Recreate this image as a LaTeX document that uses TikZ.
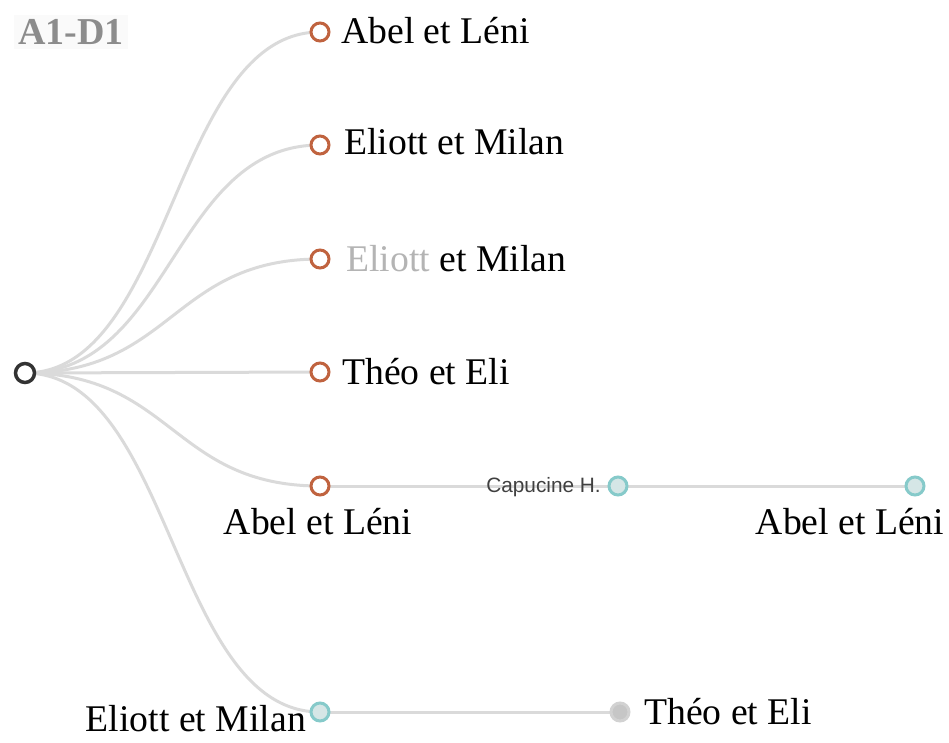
\documentclass[tikz,border=0pt]{standalone}
\usepackage{fontspec}
\usetikzlibrary{calc}
\setmainfont{Liberation Serif}
\newfontfamily\labsans{Liberation Sans}
\definecolor{edgegray}{HTML}{DADADA}
\definecolor{rust}{HTML}{C0633F}
\definecolor{tealS}{HTML}{86CACA}
\definecolor{tealF}{HTML}{D5E6E6}
\definecolor{grayF}{HTML}{C6C6C6}
\definecolor{grayS}{HTML}{D2D2D2}
\definecolor{titlegray}{HTML}{8C8C8C}
\definecolor{titlebg}{HTML}{FAFAFA}
\definecolor{fadedtext}{HTML}{B4B4B4}
\begin{document}
\begin{tikzpicture}[x=1pt,y=-1pt,
  link/.style={draw=edgegray,line width=3pt},
  dot/.style={circle,minimum size=18pt,inner sep=0pt,line width=3pt},
  rootdot/.style={dot,draw=black!80,fill=white,minimum size=19pt,line width=3.5pt},
  rustdot/.style={dot,draw=rust,fill=white},
  tealdot/.style={dot,draw=tealS,fill=tealF},
  graydot/.style={dot,draw=grayS,fill=grayF},
  lab/.style={font=\fontsize{37.7}{42}\selectfont,inner sep=1pt,text=black},
  smalllab/.style={font=\labsans\fontsize{20.8}{23}\selectfont,text=black!75,inner sep=1pt}]
\useasboundingbox (0,0) rectangle (949,742);
\node[fill=titlebg,text=titlegray,font=\bfseries\fontsize{38}{40}\selectfont,inner sep=4pt,anchor=west] (title) at (14,32) {A1-D1};
% node coordinates
\coordinate (r) at (25,373);
\coordinate (p1) at (320,32);
\coordinate (p2) at (320,145);
\coordinate (p3) at (320,259);
\coordinate (p4) at (320,372);
\coordinate (p5) at (320,486);
\coordinate (p6) at (320,712);
\coordinate (q1) at (618,486);
\coordinate (q2) at (915,486);
\coordinate (q3) at (620,712);
% links
\foreach \p in {p1,p2,p3,p4,p5,p6}{
  \draw[link] (r) .. controls ($(r)!0.5!(r-|\p)$) and ($(\p)!0.5!(\p-|r)$) .. (\p);
}
\draw[link] (p5) -- (q1);
\draw[link] (q1) -- (q2);
\draw[link] (p6) -- (q3);
% dots
\node[rootdot] (nr) at (r) {};
\node[rustdot] (n1) at (p1) {};
\node[rustdot] (n2) at (p2) {};
\node[rustdot] (n3) at (p3) {};
\node[rustdot] (n4) at (p4) {};
\node[rustdot] (n5) at (p5) {};
\node[tealdot] (n6) at (p6) {};
\node[tealdot] (m1) at (q1) {};
\node[tealdot] (m2) at (q2) {};
\node[graydot] (m3) at (q3) {};
% labels
\node[lab,anchor=west] (l1) at (340,31) {Abel et Léni};
\node[lab,anchor=west] (l2) at (343,142) {Eliott et Milan};
\node[lab,anchor=west] (l3) at (345,259) {\textcolor{fadedtext}{Eliott} et Milan};
\node[lab,anchor=west] (l4) at (341,372) {Théo et Eli};
\node[lab] (l5) at (318,522) {Abel et Léni};
\node[smalllab,anchor=east] (l6) at (602,487) {Capucine H.};
\node[lab] (l7) at (850,522) {Abel et Léni};
\node[lab,anchor=east] (l8) at (307,719) {Eliott et Milan};
\node[lab,anchor=west] (l9) at (643,712) {Théo et Eli};
\end{tikzpicture}
\end{document}
